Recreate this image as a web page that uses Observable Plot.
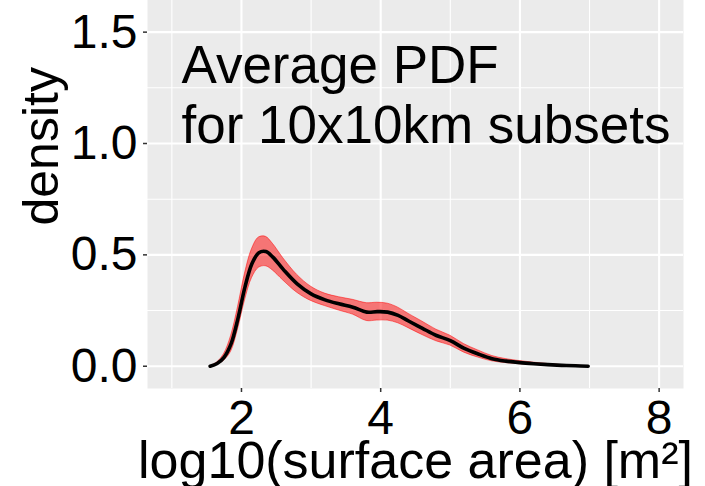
<!DOCTYPE html>
<html>
<head>
<meta charset="utf-8">
<script src="https://cdn.jsdelivr.net/npm/d3@7"></script>
<script src="https://cdn.jsdelivr.net/npm/@observablehq/plot@0.6"></script>
<style>
  html, body { margin: 0; padding: 0; background: #fff; }
</style>
</head>
<body>
<div id="chart"></div>
<script>
// log10(surface area) positions
const xVals = [1.55, 1.65, 1.75, 1.85, 1.95, 2.05, 2.15, 2.25, 2.35, 2.45, 2.6, 2.8, 3.0, 3.2, 3.4, 3.6, 3.8, 3.95, 4.1, 4.25, 4.4, 4.6, 4.8, 5.0, 5.2, 5.4, 5.6, 5.8, 6.0, 6.2, 6.4, 6.6, 6.8, 6.98];
// average density
const meanVals = [0, 0.012, 0.04, 0.10, 0.215, 0.355, 0.46, 0.51, 0.515, 0.49, 0.435, 0.37, 0.325, 0.298, 0.28, 0.265, 0.243, 0.245, 0.243, 0.228, 0.203, 0.17, 0.138, 0.115, 0.08, 0.055, 0.034, 0.023, 0.016, 0.011, 0.007, 0.004, 0.002, 0];
// band lower / upper
const lowerVals = [0, 0.007, 0.025, 0.065, 0.165, 0.295, 0.395, 0.442, 0.449, 0.43, 0.385, 0.33, 0.293, 0.27, 0.25, 0.232, 0.203, 0.205, 0.205, 0.193, 0.171, 0.14, 0.112, 0.093, 0.061, 0.039, 0.022, 0.014, 0.009, 0.006, 0.004, 0.003, 0.002, 0];
const upperVals = [0, 0.017, 0.055, 0.135, 0.265, 0.415, 0.525, 0.578, 0.581, 0.55, 0.485, 0.41, 0.357, 0.326, 0.31, 0.298, 0.283, 0.285, 0.281, 0.263, 0.235, 0.2, 0.164, 0.137, 0.099, 0.071, 0.046, 0.032, 0.023, 0.016, 0.010, 0.005, 0.002, 0];

const xMajor = [2, 4, 6, 8];
const xMinor = [1, 3, 5, 7];
const yMajor = [0, 0.5, 1.0, 1.5, 2.0];
const yMinor = [0.25, 0.75, 1.25, 1.75];
const xDomain = [0.65, 8.35];
const yDomain = [-0.1, 2.1];

const xTitle = "log10(surface area) [m²]";
const yTitle = "density";
const annotation = "Average PDF\nfor 10x10km subsets";

const data = xVals.map((x, i) => ({x, mean: meanVals[i], lo: lowerVals[i], hi: upperVals[i]}));

const font = "'Liberation Sans', Arial, Helvetica, sans-serif";

const chart = Plot.plot({
  width: 705,
  height: 486,
  marginLeft: 147,
  marginRight: 22,
  marginBottom: 98,
  marginTop: -102,
  style: {fontFamily: font, fontSize: "48px", color: "black", background: "white"},
  x: {domain: xDomain, axis: null},
  y: {domain: yDomain, axis: null},
  marks: [
    Plot.frame({fill: "#EBEBEB", stroke: null}),
    Plot.gridX(xMinor, {stroke: "white", strokeOpacity: 1, strokeWidth: 1.1}),
    Plot.gridY(yMinor, {stroke: "white", strokeOpacity: 1, strokeWidth: 1.1}),
    Plot.gridX(xMajor, {stroke: "white", strokeOpacity: 1, strokeWidth: 2.1}),
    Plot.gridY(yMajor, {stroke: "white", strokeOpacity: 1, strokeWidth: 2.1}),
    Plot.areaY(data, {x: "x", y1: "lo", y2: "hi", fill: "red", fillOpacity: 0.5, stroke: "red", strokeOpacity: 0.5, strokeWidth: 1, curve: "catmull-rom"}),
    Plot.lineY(data, {x: "x", y: "mean", stroke: "black", strokeWidth: 3.6, curve: "catmull-rom"}),
    Plot.axisX(xMajor, {tickSize: 4, tickPadding: 7, stroke: "#333333", strokeWidth: 1.5, fill: "black", fontSize: 48, label: null, tickFormat: d => String(d)}),
    Plot.axisY(yMajor, {tickSize: 4, tickPadding: 6, stroke: "#333333", strokeWidth: 1.5, fill: "black", fontSize: 48, label: null, tickFormat: d3.format(".1f")}),
    Plot.text([xTitle], {frameAnchor: "bottom", lineAnchor: "bottom", dy: 89, fontSize: 52, fill: "black"}),
    Plot.text([yTitle], {frameAnchor: "left", rotate: -90, lineAnchor: "bottom", dx: -90, dy: 82, fontSize: 50, fill: "black"}),
    Plot.text([annotation], {frameAnchor: "top-left", textAnchor: "start", lineAnchor: "top", dx: 34, dy: 142, fontSize: 53, lineHeight: 1.13, fill: "black"})
  ]
});
document.getElementById("chart").appendChild(chart);
</script>
</body>
</html>
